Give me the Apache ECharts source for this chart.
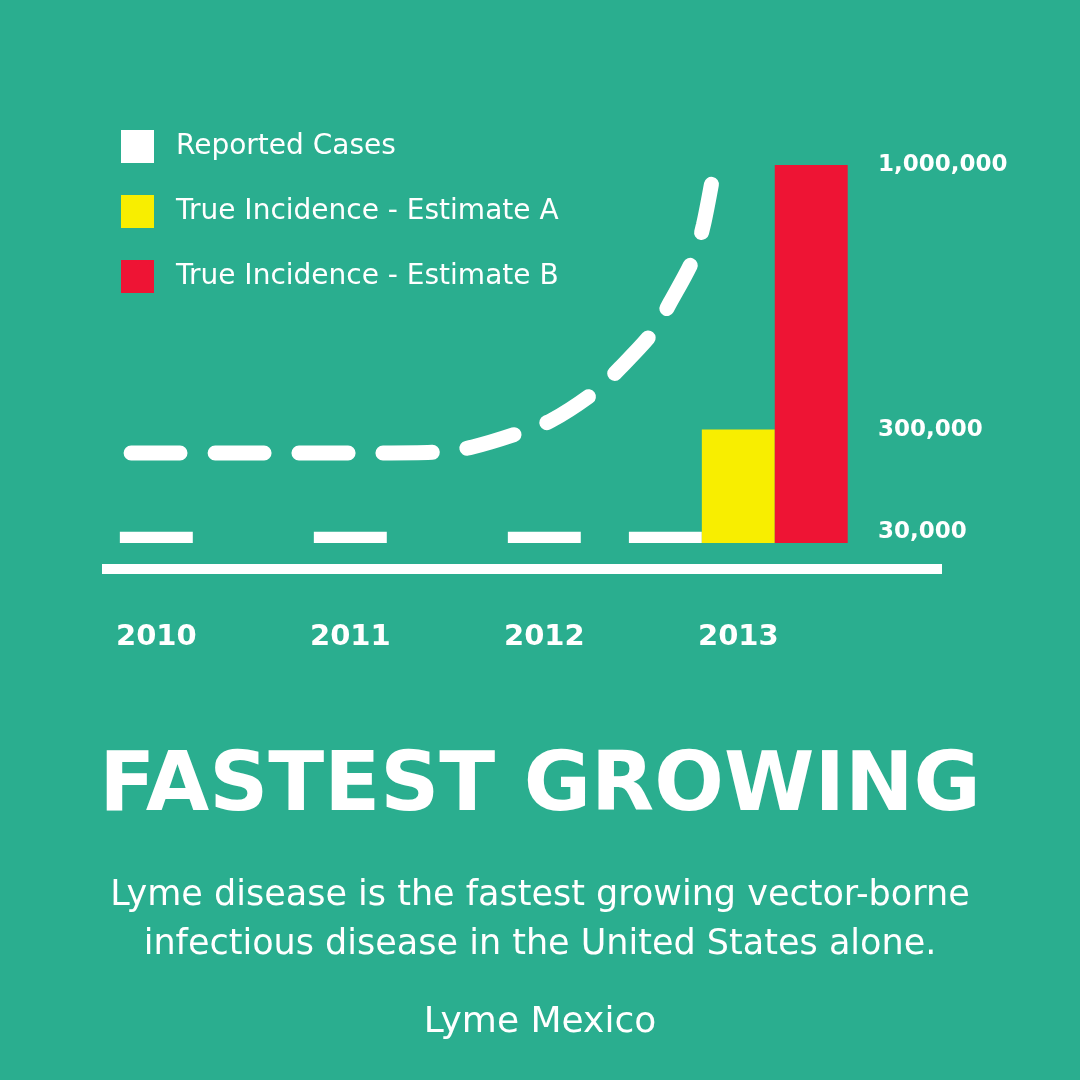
<!DOCTYPE html>
<html>
<head>
<meta charset="utf-8">
<title>Fastest Growing</title>
<script src="https://cdn.jsdelivr.net/npm/echarts@6/dist/echarts.min.js"></script>
<style>
  html, body { margin: 0; padding: 0; background: #2aae8f; }
  #chart { width: 1080px; height: 1080px; }
</style>
</head>
<body>
<div id="chart"></div>
<script>
// data
var years = [2010, 2011, 2012, 2013];
var reported = [30000, 30000, 30000, 30000];
var estimateA = [null, null, null, 300000];
var estimateB = [null, null, null, 1000000];
var valueTicks = [30000, 300000, 1000000];

// dashed growth curve (x in years, y in cases)
var trendX = [2009.87, 2010.48, 2011.15, 2011.46, 2011.63, 2011.87, 2012.04, 2012.26,
              2012.39, 2012.56, 2012.65, 2012.77, 2012.82, 2012.87];
var trendY = [238100, 238100, 238100, 240700, 254000, 291000, 325400, 399500,
              463000, 558200, 637600, 754000, 841300, 973500];

var seriesNames = ['Reported Cases', 'True Incidence - Estimate A', 'True Incidence - Estimate B'];
var seriesColors = ['#ffffff', '#f8ee00', '#ee1434'];
var barLists = [reported, estimateA, estimateB];

var white = '#ffffff';
var barShare = 0.376; // bar width as part of one year

function toPoints(xs, ys) {
    var out = [];
    for (var i = 0; i < xs.length; i++) {
        if (ys[i] != null) out.push([xs[i], ys[i]]);
    }
    return out;
}

// bars that have a value in a year sit side by side, centred on the year
function barItem(list) {
    return function (params, api) {
        var year = api.value(0);
        var i = years.indexOf(year);
        var present = barLists.filter(function (l) { return l[i] != null; });
        var k = present.indexOf(list);
        var w = api.size([1, 0], [year, 0])[0] * barShare;
        var base = api.coord([year, 0]);
        var top = api.coord([year, api.value(1)]);
        var x = base[0] + (k - (present.length - 1) / 2) * w - w / 2;
        return {
            type: 'rect',
            shape: { x: x, y: top[1], width: w, height: base[1] - top[1] },
            style: { fill: api.visual('color') }
        };
    };
}

var chart = echarts.init(document.getElementById('chart'));

var series = barLists.map(function (list, idx) {
    return {
        name: seriesNames[idx],
        type: 'custom',
        renderItem: barItem(list),
        itemStyle: { color: seriesColors[idx] },
        encode: { x: 0, y: 1 },
        data: toPoints(years, list),
        z: 3
    };
});

series.push({
    name: 'trend',
    type: 'line',
    data: toPoints(trendX, trendY),
    smooth: 0.3,
    showSymbol: false,
    silent: true,
    clip: false,
    lineStyle: { color: white, width: 15, type: [49, 35], cap: 'round' },
    z: 2
});

chart.setOption({
    backgroundColor: '#2aae8f',
    animation: false,
    title: [{
        text: 'FASTEST GROWING',
        left: 'center',
        top: 743,
        textStyle: { color: white, fontFamily: 'DejaVu Sans', fontWeight: 'bold', fontSize: 82 }
    }, {
        text: 'Lyme disease is the fastest growing vector-borne\ninfectious disease in the United States alone.',
        left: 'center',
        top: 866,
        textStyle: { color: white, fontFamily: 'DejaVu Sans', fontWeight: 'normal', fontSize: 35, lineHeight: 49 }
    }, {
        text: 'Lyme Mexico',
        left: 'center',
        top: 1000,
        textStyle: { color: white, fontFamily: 'DejaVu Sans', fontWeight: 'normal', fontSize: 36 }
    }],
    legend: {
        data: seriesNames.map(function (n) { return { name: n, icon: 'rect' }; }),
        orient: 'vertical',
        left: 121,
        top: 130,
        padding: 0,
        itemWidth: 33,
        itemHeight: 33,
        itemGap: 32,
        selectedMode: false,
        textStyle: { color: white, fontFamily: 'DejaVu Sans', fontSize: 28, padding: [0, 0, 0, 17] }
    },
    grid: { left: 102, right: 138, top: 165, bottom: 537, containLabel: false, outerBoundsMode: 'none' },
    xAxis: {
        type: 'value',
        min: 2009.72,
        max: 2014.05,
        offset: 26,
        splitLine: { show: false },
        axisTick: { show: false },
        axisLine: { show: true, onZero: false, lineStyle: { color: white, width: 10, cap: 'butt' } },
        axisLabel: {
            customValues: years,
            formatter: function (v) { return String(v); },
            margin: 54,
            color: white,
            fontFamily: 'DejaVu Sans',
            fontWeight: 'bold',
            fontSize: 29
        }
    },
    yAxis: {
        type: 'value',
        min: 0,
        max: 1000000,
        position: 'right',
        offset: -66,
        splitLine: { show: false },
        axisTick: { show: false },
        axisLine: { show: false },
        axisLabel: {
            customValues: valueTicks,
            formatter: function (v) { return v.toLocaleString('en-US'); },
            margin: 2,
            align: 'left',
            verticalAlign: 'middle',
            color: white,
            fontFamily: 'DejaVu Sans',
            fontWeight: 'bold',
            fontSize: 23
        }
    },
    series: series
});
</script>
</body>
</html>
